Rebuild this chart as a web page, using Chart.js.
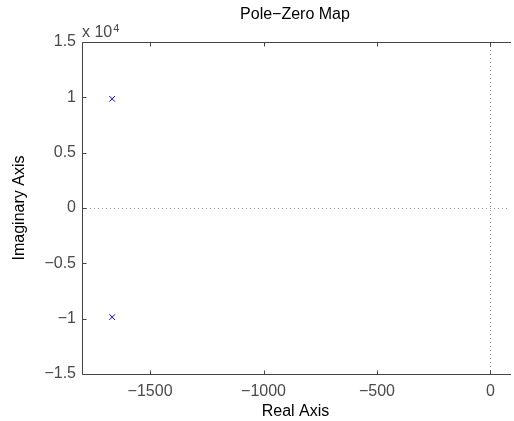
<!DOCTYPE html>
<html><head><meta charset="utf-8">
<script src="https://cdn.jsdelivr.net/npm/chart.js@4/dist/chart.umd.min.js"></script>
<style>html,body{margin:0;padding:0;overflow:hidden;background:#fff}</style>
</head><body><canvas id="c" width="514" height="421"></canvas>
<script>
const poleReal = [-1667, -1667];
const poleImag = [9860, -9860];
const xTicks = [-1500, -1000, -500, 0];
const yTicks = [-15000, -10000, -5000, 0, 5000, 10000, 15000];
const yTickLabels = ['\u22121.5', '\u22121', '\u22120.5', '0', '0.5', '1', '1.5'];
const xRange = [-1800, 82];
const yRange = [-15000, 15000];
const titleText = 'Pole\u2212Zero Map';
const xTitle = 'Real Axis';
const yTitle = 'Imaginary Axis';

const FONT = '"Liberation Sans", Arial, Helvetica, sans-serif';
const FS = 16;
const AXC = '#444444';

const decor = {
  id: 'decor',
  beforeDatasetsDraw(chart) {
    const ctx = chart.ctx, a = chart.chartArea;
    const xs = chart.scales.x, ys = chart.scales.y;
    ctx.save();
    ctx.strokeStyle = '#9a9a9a';
    ctx.lineWidth = 1;
    ctx.setLineDash([1, 3]);
    const x0 = Math.round(xs.getPixelForValue(0)) + 0.5;
    const y0 = Math.round(ys.getPixelForValue(0)) + 0.5;
    ctx.beginPath(); ctx.moveTo(x0, a.top); ctx.lineTo(x0, a.bottom); ctx.stroke();
    ctx.beginPath(); ctx.moveTo(a.left, y0); ctx.lineTo(a.right, y0); ctx.stroke();
    ctx.setLineDash([]);
    ctx.strokeStyle = AXC;
    const L = Math.round(a.left) + 0.5, T = Math.round(a.top) + 0.5, B = Math.round(a.bottom) + 0.5;
    ctx.beginPath();
    ctx.moveTo(a.right + 2, T); ctx.lineTo(L, T); ctx.lineTo(L, B); ctx.lineTo(a.right + 2, B);
    ctx.stroke();
    const tl = 4;
    ctx.beginPath();
    xTicks.forEach(v => {
      const px = Math.round(xs.getPixelForValue(v)) + 0.5;
      ctx.moveTo(px, B); ctx.lineTo(px, B - tl);
      ctx.moveTo(px, T); ctx.lineTo(px, T + tl);
    });
    yTicks.forEach(v => {
      const py = Math.round(ys.getPixelForValue(v)) + 0.5;
      ctx.moveTo(L, py); ctx.lineTo(L + tl, py);
    });
    ctx.stroke();
    ctx.fillStyle = '#000';
    ctx.font = FS + 'px ' + FONT;
    ctx.textAlign = 'center'; ctx.textBaseline = 'alphabetic';
    ctx.fillText(titleText, 295, 19);
    ctx.fillStyle = '#4a4a4a';
    ctx.textAlign = 'left';
    ctx.font = FS + 'px ' + FONT;
    ctx.fillText('x 10', a.left, 37);
    const w = ctx.measureText('x 10').width;
    ctx.font = '11px ' + FONT;
    ctx.fillText('4', a.left + w + 1, 32);
    ctx.restore();
  }
};

new Chart(document.getElementById('c'), {
  type: 'scatter',
  data: {
    datasets: [{
      data: poleReal.map((r, i) => ({x: r, y: poleImag[i]})),
      pointStyle: 'crossRot',
      pointRadius: 4,
      pointBorderWidth: 1,
      borderColor: '#0000ff',
      backgroundColor: '#0000ff',
      showLine: false
    }]
  },
  options: {
    responsive: false,
    animation: false,
    devicePixelRatio: 1,
    layout: {padding: {left: 0, top: 42, right: 0, bottom: 0}},
    plugins: {legend: {display: false}, tooltip: {enabled: false}, title: {display: false}},
    scales: {
      x: {
        type: 'linear', min: xRange[0], max: xRange[1],
        afterBuildTicks: s => { s.ticks = xTicks.map(v => ({value: v})); },
        afterFit: s => { s.height = 47; },
        grid: {display: false, drawTicks: false},
        border: {display: false},
        ticks: {
          font: {size: FS, family: FONT}, color: '#4a4a4a', padding: 8,
          maxRotation: 0, autoSkip: false,
          callback: v => (v < 0 ? '\u2212' + Math.abs(v) : String(v))
        },
        title: {display: true, text: xTitle, color: '#000', font: {size: FS, family: FONT}, padding: {top: 0, bottom: 0}}
      },
      y: {
        type: 'linear', min: yRange[0], max: yRange[1],
        afterBuildTicks: s => { s.ticks = yTicks.map(v => ({value: v})); },
        afterFit: s => { s.width = 82; },
        grid: {display: false, drawTicks: false},
        border: {display: false},
        ticks: {
          font: {size: FS, family: FONT}, color: '#4a4a4a', padding: 6, autoSkip: false,
          callback: (v) => { const i = yTicks.indexOf(v); return i >= 0 ? yTickLabels[i] : ''; }
        },
        title: {display: true, text: yTitle, color: '#000', font: {size: FS, family: FONT}, padding: {top: 10, bottom: 0}}
      }
    }
  },
  plugins: [decor]
});
</script></body></html>
